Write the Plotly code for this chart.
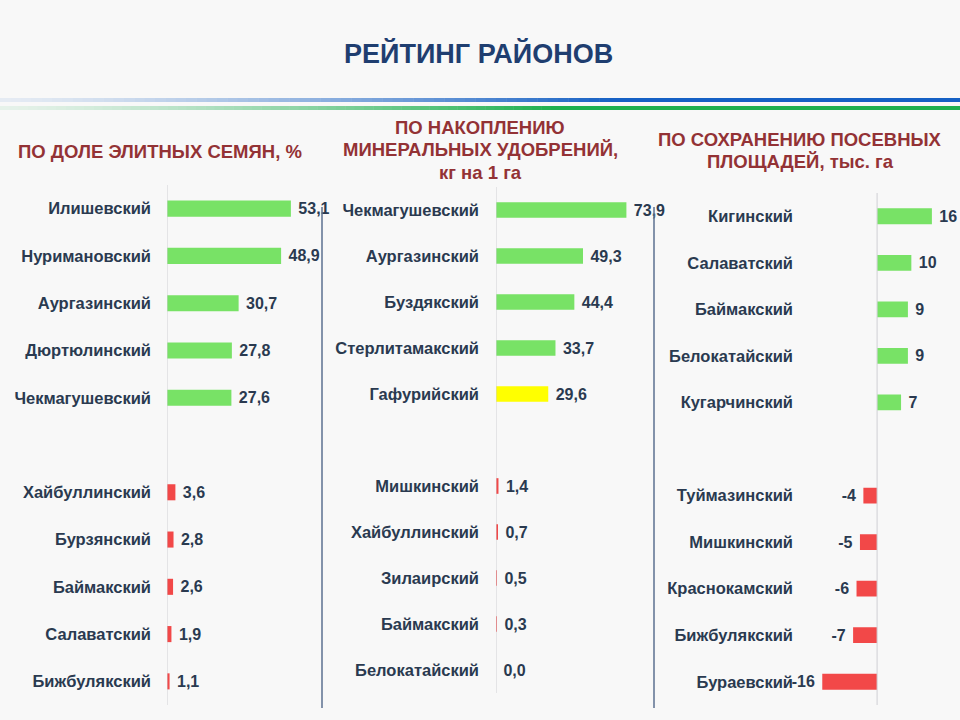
import plotly.graph_objects as go

# ---------------- data ----------------
seeds_names = ["Илишевский", "Нуримановский", "Аургазинский", "Дюртюлинский", "Чекмагушевский",
               "Хайбуллинский", "Бурзянский", "Баймакский", "Салаватский", "Бижбулякский"]
seeds_vals = [53.1, 48.9, 30.7, 27.8, 27.6, 3.6, 2.8, 2.6, 1.9, 1.1]

fert_names = ["Чекмагушевский", "Аургазинский", "Буздякский", "Стерлитамакский", "Гафурийский",
              "Мишкинский", "Хайбуллинский", "Зилаирский", "Баймакский", "Белокатайский"]
fert_vals = [73.9, 49.3, 44.4, 33.7, 29.6, 1.4, 0.7, 0.5, 0.3, 0.0]

area_names = ["Кигинский", "Салаватский", "Баймакский", "Белокатайский", "Кугарчинский",
              "Туймазинский", "Мишкинский", "Краснокамский", "Бижбулякский", "Бураевский"]
area_vals = [16, 10, 9, 9, 7, -4, -5, -6, -7, -16]

title_text = "РЕЙТИНГ РАЙОНОВ"
sub1 = ["ПО ДОЛЕ ЭЛИТНЫХ СЕМЯН, %"]
sub2 = ["ПО НАКОПЛЕНИЮ", "МИНЕРАЛЬНЫХ УДОБРЕНИЙ,", "кг на 1 га"]
sub3 = ["ПО СОХРАНЕНИЮ ПОСЕВНЫХ", "ПЛОЩАДЕЙ, тыс. га"]

# ---------------- styles ----------------
GREEN = "#78E266"
RED = "#F24848"
YELLOW = "#FFFF00"
TXT = "#2A3A50"
TITLE_C = "#1F3E70"
SUB_C = "#933235"
BG = "#F8F8F8"
FONT = "Liberation Sans"

def slots(n):
    # top five, one blank slot, bottom five
    return [i + (1 if i >= 5 else 0) for i in range(n)]

def fmt1(v):
    return " " + f"{v:.1f}".replace(".", ",")

def fmt0(v):
    return (" " + str(v)) if v >= 0 else (str(v) + " ")

fig = go.Figure()

panels = [
    dict(names=seeds_names, vals=seeds_vals, txt=[fmt1(v) for v in seeds_vals],
         colors=[GREEN] * 5 + [RED] * 5, xa="x", ya="y",
         xdom=[167 / 960, 307 / 960], ydom=[1 - 705 / 720, 1 - 185 / 720],
         xrange=[0, 60], standoff=15),
    dict(names=fert_names, vals=fert_vals, txt=[fmt1(v) for v in fert_vals],
         colors=[GREEN] * 4 + [YELLOW] + [RED] * 5, xa="x2", ya="y2",
         xdom=[496 / 960, 646 / 960], ydom=[1 - 693 / 720, 1 - 187 / 720],
         xrange=[0, 85], standoff=16),
    dict(names=area_names, vals=area_vals, txt=[fmt0(v) for v in area_vals],
         colors=[GREEN] * 5 + [RED] * 5, xa="x3", ya="y3",
         xdom=[800 / 960, 945.6 / 960], ydom=[1 - 705 / 720, 1 - 193 / 720],
         xrange=[-22.5, 20], standoff=6),
]

for k, p in enumerate(panels):
    ys = slots(len(p["vals"]))
    fig.add_trace(go.Bar(
        x=p["vals"], y=ys, orientation="h", marker=dict(color=p["colors"], line=dict(width=0)),
        width=0.34, text=p["txt"], textposition="outside", cliponaxis=False,
        constraintext="none",
        textfont=dict(family=FONT, size=16, color=TXT, weight="bold"),
        xaxis=p["xa"], yaxis=p["ya"], hoverinfo="skip", showlegend=False))
    sfx = "" if k == 0 else str(k + 1)
    fig.layout["xaxis" + sfx] = dict(domain=p["xdom"], range=p["xrange"], visible=False,
                                     anchor="y" + sfx, fixedrange=True)
    fig.layout["yaxis" + sfx] = dict(domain=p["ydom"], range=[10.5, -0.5], anchor="x" + sfx,
                                     tickvals=ys, ticktext=p["names"], showgrid=False,
                                     zeroline=False, showline=False, ticks="",
                                     ticklabelstandoff=p["standoff"], fixedrange=True,
                                     tickfont=dict(family=FONT, size=16.5, color=TXT, weight="bold"))
    # thin value-axis line at zero
    fig.add_shape(type="line", xref=p["xa"], yref=p["ya"] + " domain", x0=0, x1=0, y0=0, y1=1,
                  line=dict(color="#CFCFD4", width=1))

# separators between panels
for xp in (322, 654):
    fig.add_shape(type="line", xref="paper", yref="paper", x0=xp / 960, x1=xp / 960,
                  y0=1 - 708 / 720, y1=1 - 207 / 720, line=dict(color="#5C7191", width=1.5))

# gradient header lines
def blend(c, t):
    r, g, b = int(c[1:3], 16), int(c[3:5], 16), int(c[5:7], 16)
    br, bg_, bb = 248, 248, 248
    return f"rgb({int(br + (r - br) * t)},{int(bg_ + (g - bg_) * t)},{int(bb + (b - bb) * t)})"

for col, yp, full in (("#1560C4", 100, 620), ("#1DB04F", 108, 560)):
    n = 60
    for i in range(n):
        xa = full * i / n
        xb = full * (i + 1) / n + 0.5
        t = 0.08 + 0.92 * ((i + 0.5) / n) ** 1.3
        fig.add_shape(type="line", xref="paper", yref="paper", x0=xa / 960, x1=xb / 960,
                      y0=1 - yp / 720, y1=1 - yp / 720, line=dict(color=blend(col, t), width=4))
    fig.add_shape(type="line", xref="paper", yref="paper", x0=full / 960, x1=1,
                  y0=1 - yp / 720, y1=1 - yp / 720, line=dict(color=col, width=4))

# titles
fig.add_annotation(text=title_text, x=478 / 960, y=1 - 54 / 720, xref="paper", yref="paper",
                   xanchor="center", yanchor="middle", showarrow=False,
                   font=dict(family=FONT, size=27, color=TITLE_C, weight="bold"))
for lines, cx, y0 in ((sub1, 160, 151), (sub2, 480, 127), (sub3, 800, 139)):
    for j, ln in enumerate(lines):
        fig.add_annotation(text=ln, x=cx / 960, y=1 - (y0 + 22.5 * j) / 720, xref="paper",
                           yref="paper", xanchor="center", yanchor="middle", showarrow=False,
                           font=dict(family=FONT, size=18.5, color=SUB_C, weight="bold"))

fig.update_layout(width=960, height=720, margin=dict(l=0, r=0, t=0, b=0),
                  paper_bgcolor=BG, plot_bgcolor=BG, bargap=0.66, hovermode=False)

fig.write_html("out.html", config={"displayModeBar": False},
               post_script="document.body.style.margin='0';document.body.style.overflow='hidden';")
